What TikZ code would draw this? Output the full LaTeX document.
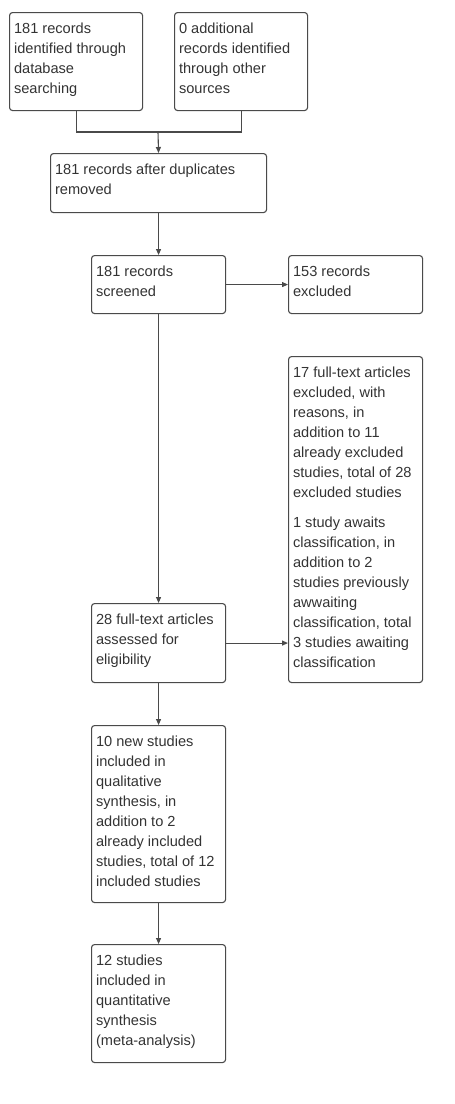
\documentclass[tikz,border=0pt]{standalone}
\usepackage{fontspec}
\setmainfont{Liberation Sans}
\usetikzlibrary{arrows.meta}
\definecolor{txt}{HTML}{333333}
\definecolor{ln}{HTML}{4A4A4A}
\newcommand{\bxtext}[3]{\parbox[c][#2][t]{#1}{\leftskip=4.5pt\rightskip=0pt plus 1fil\parindent=0pt\vspace*{7pt}\strut #3}}
\begin{document}
\begin{tikzpicture}[x=1pt,y=-1pt,
  box/.style={draw=ln, line width=1.1pt, rounded corners=3pt, inner sep=0pt, anchor=north west, text=txt,
    font=\fontsize{14.6}{20}\selectfont},
  conn/.style={draw=ln, line width=1.1pt},
  arr/.style={conn, -{Triangle[length=6pt,width=5pt]}}]
\useasboundingbox (0,0) rectangle (455,1104);
\node[box] (A) at (9,12) {\bxtext{133pt}{98pt}{181 records\\identified through\\database\\searching}};
\node[box] (B) at (174,12) {\bxtext{133pt}{98pt}{0 additional\\records identified\\through other\\sources}};
\node[box] (C) at (50,153) {\bxtext{216pt}{59pt}{181 records after duplicates\\removed}};
\node[box] (D) at (91,255) {\bxtext{134pt}{58pt}{181 records\\screened}};
\node[box] (E) at (288,255) {\bxtext{134pt}{58pt}{153 records\\excluded}};
\node[box] (F) at (288,356) {\bxtext{134pt}{326pt}{17 full-text articles\\excluded, with\\reasons, in\\addition to 11\\already excluded\\studies, total of 28\\excluded studies\par\vspace{10pt}\strut 1 study awaits\\classification, in\\addition to 2\\studies previously\\awwaiting\\classification, total\\3 studies awaiting\\classification}};
\node[box] (G) at (91,603) {\bxtext{134pt}{79pt}{28 full-text articles\\assessed for\\eligibility}};
\node[box] (H) at (91,725) {\bxtext{134pt}{177pt}{10 new studies\\included in\\qualitative\\synthesis, in\\addition to 2\\already included\\studies, total of 12\\included studies}};
\node[box] (I) at (91,944) {\bxtext{134pt}{118pt}{12 studies\\included in\\quantitative\\synthesis\\(meta-analysis)}};
\coordinate (j) at (158,132);
\draw[conn] (A.south) |- (j);
\draw[conn] (B.south) |- (j);
\draw[arr] (j) -- (C.north);
\draw[arr] (C.south) -- (D.north);
\draw[arr] (D.east) -- (E.west);
\draw[arr] (D.south) -- (G.north);
\draw[arr] (G.east) -- (G.east -| F.west);
\draw[arr] (G.south) -- (H.north);
\draw[arr] (H.south) -- (I.north);
\end{tikzpicture}
\end{document}
